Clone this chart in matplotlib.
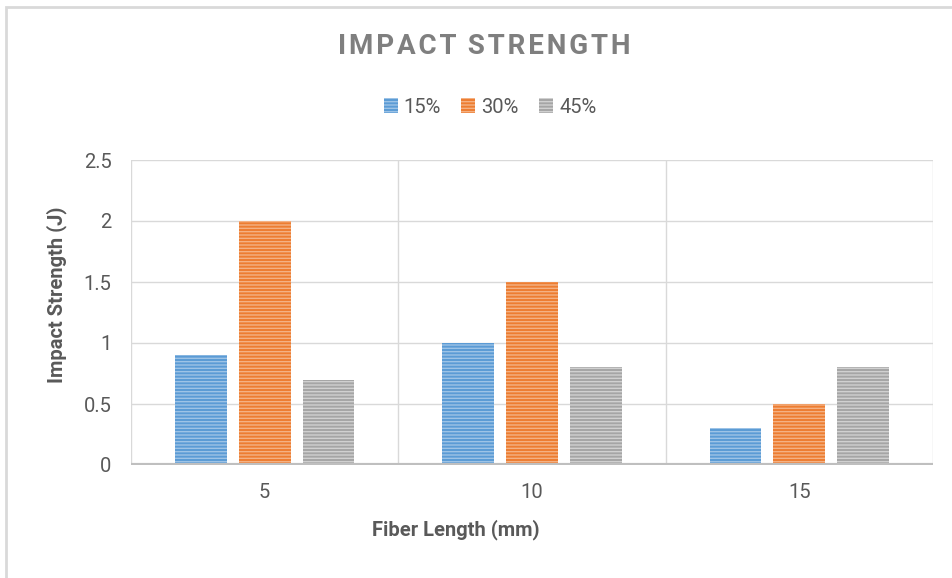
import numpy as np
import matplotlib
matplotlib.use("Agg")
import matplotlib.pyplot as plt
from matplotlib.patches import Rectangle

plt.rcParams['font.family'] = ['Roboto', 'DejaVu Sans']
plt.rcParams['hatch.linewidth'] = 1.0

# data
fiber_length = ['5', '10', '15']
series_names = ['15%', '30%', '45%']
val_15 = [0.9, 1.0, 0.3]
val_30 = [2.0, 1.5, 0.5]
val_45 = [0.7, 0.8, 0.8]

colors = ['#5B9BD5', '#ED7D31', '#A5A5A5']
stripes = ['#9DC3E6', '#F4B183', '#D0D0D0']
txt = '#595959'

fig = plt.figure(figsize=(9.52, 5.78), dpi=100)
ax = fig.add_axes([131 / 952, 1 - 465 / 578, (933 - 131) / 952, (465 - 160) / 578])

x = np.arange(len(fiber_length))
w = 0.194
offs = [-0.239, 0.0, 0.239]
for vals, off, c, sc, name in zip([val_15, val_30, val_45], offs, colors, stripes, series_names):
    ax.bar(x + off, vals, w, color=c, edgecolor=sc, linewidth=0, hatch='-----', label=name, zorder=3)

ax.set_xlim(-0.5, 2.5)
ax.set_ylim(0, 2.5)
ax.set_yticks(np.arange(0, 2.51, 0.5))
ax.set_yticklabels(['0', '0.5', '1', '1.5', '2', '2.5'])
ax.set_xticks(x)
ax.set_xticklabels(fiber_length)
ax.tick_params(length=0, labelsize=14.5, colors=txt)
ax.tick_params(axis='x', pad=13)
ax.tick_params(axis='y', pad=14)

# gridlines: horizontal at each tick, vertical at category borders
for yv in np.arange(0.5, 2.51, 0.5):
    ax.axhline(yv, color='#D9D9D9', lw=1, zorder=1)
for xv in [-0.5, 0.5, 1.5, 2.5]:
    ax.axvline(xv, color='#D9D9D9', lw=1, zorder=1)
for s in ax.spines.values():
    s.set_visible(False)
ax.axhline(0, color='#BFBFBF', lw=3, zorder=4)

ax.legend(loc='center', bbox_to_anchor=(490 / 952, 1 - 107 / 578), bbox_transform=fig.transFigure,
          ncol=3, frameon=False, fontsize=14.5, handlelength=0.7, handleheight=0.7,
          handletextpad=0.3, columnspacing=1.0, labelcolor=txt)

title = '\u200a'.join('IMPACT') + '\u2009\u2009' + '\u200a'.join('STRENGTH')
fig.text(484 / 952, 1 - 46 / 578, title, ha='center', va='center',
         fontsize=20, fontweight='bold', color='#7F7F7F')
fig.text(456 / 952, 1 - 530 / 578, 'Fiber Length (mm)', ha='center', va='center',
         fontsize=14.5, fontweight='bold', color=txt)
fig.text(57 / 952, 1 - 295 / 578, 'Impact Strength (J)', ha='center', va='center',
         rotation=90, fontsize=14.5, fontweight='bold', color=txt)

# chart frame
fig.patches.append(Rectangle((6 / 952, -0.1), 1.1, 1 - 7 / 578 + 0.1, transform=fig.transFigure,
                             fill=False, edgecolor='#D9D9D9', lw=2))

fig.savefig('out.png', dpi=100)
